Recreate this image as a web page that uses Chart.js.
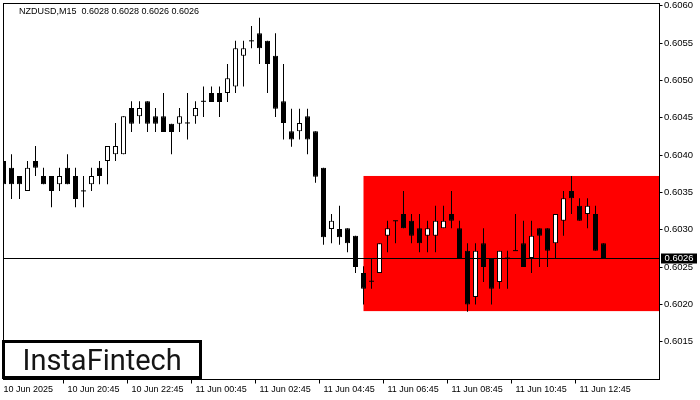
<!DOCTYPE html>
<html>
<head>
<meta charset="utf-8">
<title>NZDUSD M15</title>
<script src="https://cdn.jsdelivr.net/npm/chart.js@4.4.1/dist/chart.umd.min.js"></script>
<style>
  html, body { margin: 0; padding: 0; background: #fff; }
  #wrap { width: 700px; height: 400px; position: relative; }
</style>
</head>
<body>
<div id="wrap"><canvas id="myChart1" width="700" height="400"></canvas></div>
<script>

// NZDUSD M15 candles (76 bars)
var opens  = [0.60392,0.60383,0.60372,0.60352,0.60392,0.60372,0.60372,0.60361,0.60383,0.60372,
              0.60352,0.60361,0.60383,0.60392,0.60401,0.60401,0.60463,0.60452,0.60472,0.60452,
              0.60452,0.60442,0.60442,0.60443,0.60452,0.60472,0.60483,0.60483,0.60483,0.60492,
              0.60533,0.60553,0.60563,0.60553,0.60533,0.60472,0.60432,0.60432,0.60452,0.60432,
              0.60383,0.60301,0.60301,0.60302,0.60292,0.60242,0.60231,0.60242,0.60292,0.60312,
              0.60321,0.60312,0.60302,0.60292,0.60292,0.60302,0.60321,0.60302,0.60272,0.60210,
              0.60282,0.60262,0.60230,0.60262,0.60272,0.60282,0.60262,0.60302,0.60302,0.60282,
              0.60312,0.60352,0.60332,0.60321,0.60321,0.60282];
var highs  = [0.60392,0.60401,0.60372,0.60392,0.60412,0.60383,0.60372,0.60383,0.60401,0.60383,
              0.60372,0.60383,0.60392,0.60412,0.60443,0.60452,0.60472,0.60472,0.60472,0.60463,
              0.60483,0.60442,0.60463,0.60483,0.60472,0.60492,0.60492,0.60492,0.60522,0.60553,
              0.60553,0.60573,0.60584,0.60553,0.60563,0.60522,0.60462,0.60462,0.60462,0.60432,
              0.60383,0.60321,0.60332,0.60302,0.60292,0.60251,0.60261,0.60282,0.60312,0.60312,
              0.60352,0.60321,0.60321,0.60312,0.60332,0.60332,0.60352,0.60312,0.60282,0.60282,
              0.60302,0.60262,0.60272,0.60272,0.60321,0.60312,0.60312,0.60302,0.60302,0.60321,
              0.60352,0.60372,0.60342,0.60342,0.60332,0.60282];
var lows   = [0.60361,0.60341,0.60341,0.60352,0.60372,0.60361,0.60330,0.60352,0.60361,0.60330,
              0.60330,0.60352,0.60361,0.60361,0.60392,0.60401,0.60431,0.60442,0.60431,0.60431,
              0.60431,0.60401,0.60431,0.60421,0.60442,0.60451,0.60471,0.60451,0.60471,0.60483,
              0.60492,0.60543,0.60522,0.60483,0.60451,0.60421,0.60411,0.60421,0.60401,0.60363,
              0.60280,0.60282,0.60280,0.60270,0.60242,0.60200,0.60221,0.60242,0.60270,0.60282,
              0.60302,0.60282,0.60270,0.60270,0.60270,0.60302,0.60302,0.60262,0.60190,0.60200,
              0.60230,0.60200,0.60221,0.60221,0.60272,0.60250,0.60242,0.60250,0.60250,0.60262,
              0.60292,0.60321,0.60312,0.60302,0.60272,0.60262];
var closes = [0.60361,0.60361,0.60361,0.60383,0.60383,0.60361,0.60352,0.60372,0.60361,0.60341,
              0.60352,0.60372,0.60372,0.60412,0.60412,0.60452,0.60442,0.60463,0.60442,0.60442,
              0.60431,0.60431,0.60452,0.60443,0.60463,0.60472,0.60471,0.60471,0.60503,0.60543,
              0.60543,0.60553,0.60543,0.60522,0.60462,0.60443,0.60421,0.60443,0.60421,0.60371,
              0.60290,0.60312,0.60290,0.60282,0.60250,0.60221,0.60231,0.60282,0.60302,0.60312,
              0.60302,0.60292,0.60282,0.60302,0.60312,0.60312,0.60312,0.60262,0.60200,0.60272,
              0.60250,0.60221,0.60272,0.60262,0.60272,0.60250,0.60292,0.60292,0.60272,0.60321,
              0.60342,0.60342,0.60312,0.60332,0.60272,0.60262];

// price axis
var yMin = 0.600994;
var yMax = 0.60603;
var yTicks = [0.6015,0.6020,0.6025,0.6030,0.6035,0.6040,0.6045,0.6050,0.6055,0.6060];

// time axis: labels every 8 bars (2 hours)
var tickLabels = ["10 Jun 2025","10 Jun 20:45","10 Jun 22:45","11 Jun 00:45","11 Jun 02:45",
                  "11 Jun 04:45","11 Jun 06:45","11 Jun 08:45","11 Jun 10:45","11 Jun 12:45"];
var slotCount = 83;   // 76 bars + empty space on the right

// the red range box + symbol
var zoneTop = 0.60372;
var zoneBottom = 0.60191;
var zoneStart = 45;
var symbol = "NZDUSD,M15";
var brand = "InstaFintech";

function pad(n){ return (n < 10 ? "0" : "") + n; }

var times = [];
for (var i = 0; i < slotCount; i++) {
    var m = 18*60 + 45 + 15*i;
    var day = 10 + Math.floor(m / 1440);
    m = m % 1440;
    times.push(day + " Jun " + pad(Math.floor(m/60)) + ":" + pad(m % 60));
}

var wicks = [], bodies = [], dojis = [], bodyColors = [];
for (var k = 0; k < opens.length; k++) {
    wicks.push([lows[k], highs[k]]);
    if (opens[k] === closes[k]) {
        bodies.push(null);
        dojis.push(opens[k]);
    } else {
        bodies.push([opens[k], closes[k]]);
        dojis.push(null);
    }
    bodyColors.push(closes[k] > opens[k] ? "#ffffff" : "#000000");
}
var last = opens.length - 1;

var lblFont = "Liberation Sans";

// red box behind the candles
var zonePlugin = {
    id: "zone",
    beforeDatasetsDraw: function(chart) {
        var ctx = chart.ctx, a = chart.chartArea;
        var xs = chart.scales.x, ys = chart.scales.y;
        var x0 = xs.getPixelForValue(zoneStart);
        var y0 = ys.getPixelForValue(zoneTop), y1 = ys.getPixelForValue(zoneBottom);
        ctx.save();
        ctx.fillStyle = "#ff0000";
        ctx.fillRect(x0, y0, a.right - x0, y1 - y0);
        ctx.restore();
    },
    afterDatasetsDraw: function(chart) {
        var ctx = chart.ctx, a = chart.chartArea, ys = chart.scales.y;
        ctx.save();
        // bid line
        var py = Math.floor(ys.getPixelForValue(closes[last]));
        ctx.fillStyle = "#000";
        ctx.fillRect(a.left, py, a.right - a.left, 1);
        // frame
        ctx.strokeStyle = "#000";
        ctx.lineWidth = 1;
        ctx.strokeRect(a.left, a.top, a.right - a.left, a.bottom - a.top);
        ctx.restore();
    },
    afterDraw: function(chart) {
        var ctx = chart.ctx, a = chart.chartArea, ys = chart.scales.y;
        ctx.save();
        // header text
        ctx.fillStyle = "#000";
        ctx.font = "9px '" + lblFont + "'";
        ctx.textBaseline = "middle";
        ctx.textAlign = "left";
        ctx.fillText(symbol + "  " + opens[last].toFixed(4) + " " + highs[last].toFixed(4) + " " +
                     lows[last].toFixed(4) + " " + closes[last].toFixed(4), 19, 11.5);
        // price tag on the axis
        var py = ys.getPixelForValue(closes[last]);
        ctx.fillStyle = "#000";
        ctx.fillRect(a.right + 1.5, Math.round(py) - 4.5, 36, 10);
        ctx.fillStyle = "#fff";
        ctx.font = "9.5px '" + lblFont + "'";
        ctx.fillText(closes[last].toFixed(4), a.right + 5, Math.round(py) + 0.5);
        // logo box
        ctx.fillStyle = "#fff";
        ctx.fillRect(3.5, 341.5, 197, 36);
        ctx.strokeStyle = "#000";
        ctx.lineWidth = 3;
        ctx.strokeRect(3.5, 341.5, 197, 36);
        ctx.fillStyle = "#151515";
        ctx.font = "400 29px Roboto";
        ctx.textBaseline = "alphabetic";
        ctx.fillText(brand, 22.5, 370);
        ctx.restore();
    }
};

var ctx1 = document.getElementById("myChart1").getContext("2d");
var myNewChart1 = new Chart(ctx1, {
    type: "bar",
    data: {
        labels: times,
        datasets: [
            {
                label: "bodies",
                data: bodies,
                grouped: false,
                order: 0,
                barThickness: 5,
                backgroundColor: bodyColors,
                borderColor: "#000",
                borderWidth: 1,
                borderSkipped: false,
                inflateAmount: 0
            },
            {
                label: "doji",
                type: "line",
                data: dojis,
                order: 0,
                showLine: false,
                pointStyle: "line",
                pointRadius: 2.5,
                pointHoverRadius: 2.5,
                pointBorderWidth: 1,
                borderColor: "#000",
                backgroundColor: "#000"
            },
            {
                label: "wicks",
                data: wicks,
                grouped: false,
                order: 1,
                barThickness: 1,
                backgroundColor: "#000",
                borderWidth: 0,
                inflateAmount: 0
            }
        ]
    },
    options: {
        responsive: false,
        animation: false,
        devicePixelRatio: 1,
        events: [],
        layout: { padding: { left: 3.5, top: 3.5, right: 0, bottom: 0 } },
        plugins: { legend: { display: false }, tooltip: { enabled: false }, title: { display: false } },
        scales: {
            x: {
                type: "category",
                offset: false,
                grid: {
                    display: true,
                    drawOnChartArea: false,
                    drawTicks: true,
                    tickLength: 4,
                    color: function(c) { return (c.index % 8 === 0 && c.index <= 72) ? "#000" : "rgba(0,0,0,0)"; }
                },
                border: { display: true, color: "#000", width: 1 },
                ticks: {
                    autoSkip: false,
                    maxRotation: 0,
                    minRotation: 0,
                    align: "start",
                    padding: 1,
                    color: "#000",
                    font: { family: lblFont, size: 9 },
                    callback: function(v, i) {
                        if (i % 8 !== 0) return "";
                        return tickLabels[i / 8] || "";
                    }
                },
                afterFit: function(s) {
                    s.height = 20.5;
                    s.paddingLeft = 0; s.paddingRight = 0;
                }
            },
            y: {
                position: "right",
                min: yMin,
                max: yMax,
                afterBuildTicks: function(s) { s.ticks = yTicks.map(function(v){ return { value: v }; }); },
                grid: { drawOnChartArea: false, drawTicks: true, tickLength: 3, color: "#000" },
                border: { display: true, color: "#000", width: 1 },
                ticks: {
                    padding: 1.5,
                    color: "#000",
                    font: { family: lblFont, size: 9.5 },
                    callback: function(v) { return Number(v).toFixed(4); }
                },
                afterFit: function(s) {
                    s.width = 40.5;
                    s.paddingTop = 0; s.paddingBottom = 0;
                }
            }
        }
    },
    plugins: [zonePlugin]
});
</script>
</body>
</html>
